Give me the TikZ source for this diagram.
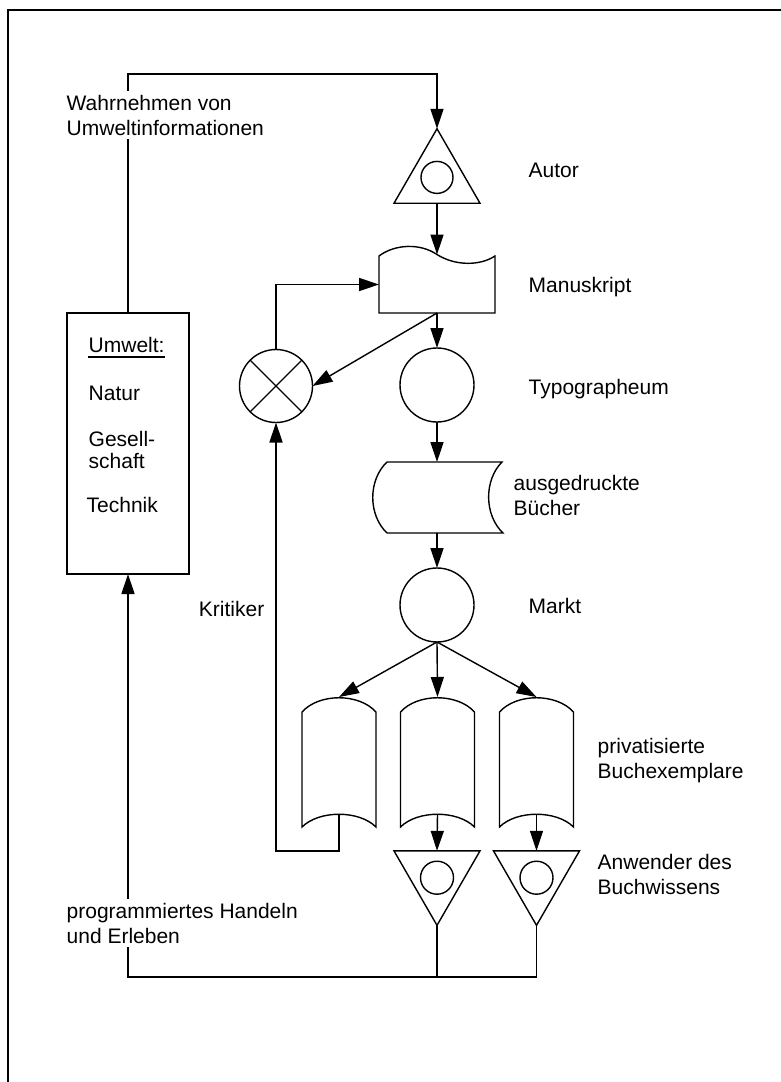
\documentclass[tikz,border=0pt]{standalone}
\usepackage{fontspec}
\setmainfont{Liberation Sans}
\usetikzlibrary{arrows.meta,shapes.geometric,calc}

\begin{document}
\begin{tikzpicture}[x=1pt,y=-1pt,line width=1.4pt,
  conn/.style={-{Triangle[length=20pt,width=13pt]}},
  lbl/.style={anchor=base west,inner sep=0pt,align=left,font=\fontsize{21}{25}\selectfont},
  cut/.style={fill=white,inner ysep=4pt},
  disc/.style={circle,draw,minimum size=74pt,inner sep=0pt,outer sep=0pt},
  tri/.style={regular polygon,regular polygon sides=3,minimum size=99.3pt,inner sep=0pt,outer sep=0pt,draw},
  hollow/.style={draw=none,rectangle,inner sep=0pt,outer sep=0pt}
]
\useasboundingbox (0,0) rectangle (781,1082);

% page frame
\draw[line width=2pt] (8,1082) -- (8,9.5) -- (781,9.5);

% environment box
\node[draw,rectangle,minimum width=122pt,minimum height=261pt,inner sep=0pt,outer sep=0pt] (uw) at (128,443.5) {};
\node[lbl] (uwt) at (88,352) {Umwelt:};
\draw[line width=1.6pt] ($(uwt.base west)+(0,5)$) -- ($(uwt.base east)+(0,5)$);
\node[lbl] (natur) at (88,400) {Natur};
\node[lbl,font=\fontsize{21}{22}\selectfont] (ges) at (88,468) {Gesell-\\schaft};
\node[lbl] (tech) at (86,512) {Technik};

% author
\node[tri] (au) at (437,178.4) {};
\draw ($(au.center)+(0,-1)$) circle (16);

% manuscript (document symbol)
\node[hollow,minimum width=116pt,minimum height=57pt] (mk) at (437,284.5) {};
\coordinate (mkin) at (437,254.5);
\draw (mk.south west) -- (379,256) .. controls (395,244) and (420,243) .. (mkin)
  .. controls (455,266) and (480,266) .. (495,256) -- (mk.south east) -- cycle;

% comparator
\node[circle,draw,minimum size=73pt,inner sep=0pt,outer sep=0pt] (cmp) at (276,386) {};
\draw (cmp.north west) -- (cmp.south east) (cmp.north east) -- (cmp.south west);

% typographeum
\node[disc] (tp) at (437,385) {};

% printed books (stored data symbol)
\node[hollow,minimum width=130pt,minimum height=71pt] (ab) at (437,497.5) {};
\draw (387,462) -- (502,462) .. controls (484,480) and (484,515) .. (503,533)
  -- (387,533) .. controls (368,515) and (368,480) .. cycle;

% market
\node[disc] (mkt) at (437,605) {};

% privatised copies
\newcommand\bookpage[1]{%
  \draw ($(#1.north west)+(0,15)$) .. controls ($(#1.north)+(-20,-4)$) and ($(#1.north)+(20,-4)$) .. ($(#1.north east)+(0,15)$)
    -- (#1.south east) .. controls ($(#1.south)+(20,-17)$) and ($(#1.south)+(-20,-17)$) .. (#1.south west) -- cycle;
  \coordinate (#1b) at ($(#1.south)+(0,-13)$);}
\node[hollow,minimum width=74pt,minimum height=130pt] (b1) at (339,762) {};
\node[hollow,minimum width=74pt,minimum height=130pt] (b2) at (437.5,762) {};
\node[hollow,minimum width=74pt,minimum height=130pt] (b3) at (536.5,762) {};
\bookpage{b1}\bookpage{b2}\bookpage{b3}

% users
\node[tri,shape border rotate=180] (t1) at (437,875.7) {};
\node[tri,shape border rotate=180] (t2) at (536.5,875.7) {};
\draw ($(t1.center)+(0,2)$) circle (16.5);
\draw ($(t2.center)+(0,2)$) circle (16.5);

% connectors
\coordinate (tl) at (128,74);
\coordinate (bl) at (128,977);
\draw[conn] (uw.north) -- (tl) -| (au.corner 1);
\draw[conn] (au.side 2) -- (mkin);
\draw[conn] (mk.south) -- (tp.north);
\draw[conn] (mk.south) -- (cmp.east);
\draw[conn] (cmp.north) |- (mk.west);
\draw[conn] (tp.south) -- (ab.north);
\draw[conn] (ab.south) -- (mkt.north);
\draw[conn] (mkt.south) -- (b1.north);
\draw[conn] (mkt.south) -- (b2.north);
\draw[conn] (mkt.south) -- (b3.north);
\draw[conn] (b2b) -- (t1.side 2);
\draw[conn] (b3b) -- (t2.side 2);
\draw[conn] (b1b) -- ++(0,37) -| (cmp.south);
\draw (t1.corner 1) -- (t1.corner 1 |- bl);
\draw[conn] (t2.corner 1) -- (t2.corner 1 |- bl) -- (bl) -- (uw.south);

% labels (base anchor sits on the last line)
\node[lbl,cut] (l1) at (66,135) {Wahrnehmen von\\Umweltinformationen};
\node[lbl] (l2) at (528,177) {Autor};
\node[lbl] (l3) at (528,292) {Manuskript};
\node[lbl] (l4) at (528,394) {Typographeum};
\node[lbl] (l5) at (513,515) {ausgedruckte\\Bücher};
\node[lbl] (l6) at (528,613) {Markt};
\node[lbl,anchor=base east] (l7) at (265,616) {Kritiker};
\node[lbl] (l8) at (597,778) {privatisierte\\Buchexemplare};
\node[lbl] (l9) at (597,894) {Anwender des\\Buchwissens};
\node[lbl,cut] (l10) at (66,943) {programmiertes Handeln\\und Erleben};
\end{tikzpicture}
\end{document}
